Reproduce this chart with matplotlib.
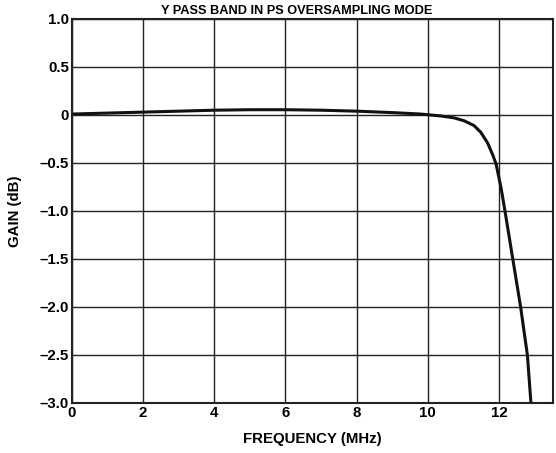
import numpy as np
import matplotlib.pyplot as plt
import matplotlib as mpl

mpl.rcParams['font.family'] = 'Liberation Sans'
mpl.rcParams['font.weight'] = 'bold'

# datos (frecuencia en MHz, ganancia en dB)
freq = [0, 1, 2, 3, 4, 5, 6, 7, 8, 9, 9.8, 10.37, 10.74, 11.02, 11.30, 11.49,
        11.68, 11.82, 11.92, 12.06, 12.17, 12.39, 12.61, 12.80, 12.90]
gain = [0.01, 0.02, 0.03, 0.04, 0.05, 0.055, 0.055, 0.05, 0.04, 0.025, 0.01,
        -0.01, -0.03, -0.06, -0.11, -0.18, -0.29, -0.41, -0.51, -0.76, -1.0,
        -1.5, -2.0, -2.5, -3.0]

xticks = [0, 2, 4, 6, 8, 10, 12]
yticks = [-3.0, -2.5, -2.0, -1.5, -1.0, -0.5, 0, 0.5, 1.0]
ylabels = ['\u20133.0', '\u20132.5', '\u20132.0', '\u20131.5', '\u20131.0', '\u20130.5', '0', '0.5', '1.0']

fig = plt.figure(figsize=(5.56, 4.53), dpi=100)
ax = fig.add_axes([72/556, 50/453, 481/556, 384/453])
ax.plot(freq, gain, color='#111111', lw=2.2, solid_capstyle='butt')
ax.set_xlim(0, 13.52)
ax.set_ylim(-3.0, 1.0)
ax.set_xticks(xticks)
ax.set_yticks(yticks)
ax.set_yticklabels(ylabels)
ax.grid(True, color='#222222', lw=1.0)
ax.tick_params(length=0, labelsize=10.8, pad=2)
for s in ax.spines.values():
    s.set_linewidth(1.5)
    s.set_color('#222222')
ax.set_xlabel('FREQUENCY (MHz)', fontsize=10.8, fontweight='bold', labelpad=9)
ax.set_ylabel('GAIN (dB)', fontsize=10.8, fontweight='bold', labelpad=13)
fig.text(297/556, 1 - 11/453, 'Y PASS BAND IN PS OVERSAMPLING MODE', ha='center', va='center',
         fontsize=9.2, fontweight='bold')
fig.savefig('out.png', dpi=100)
